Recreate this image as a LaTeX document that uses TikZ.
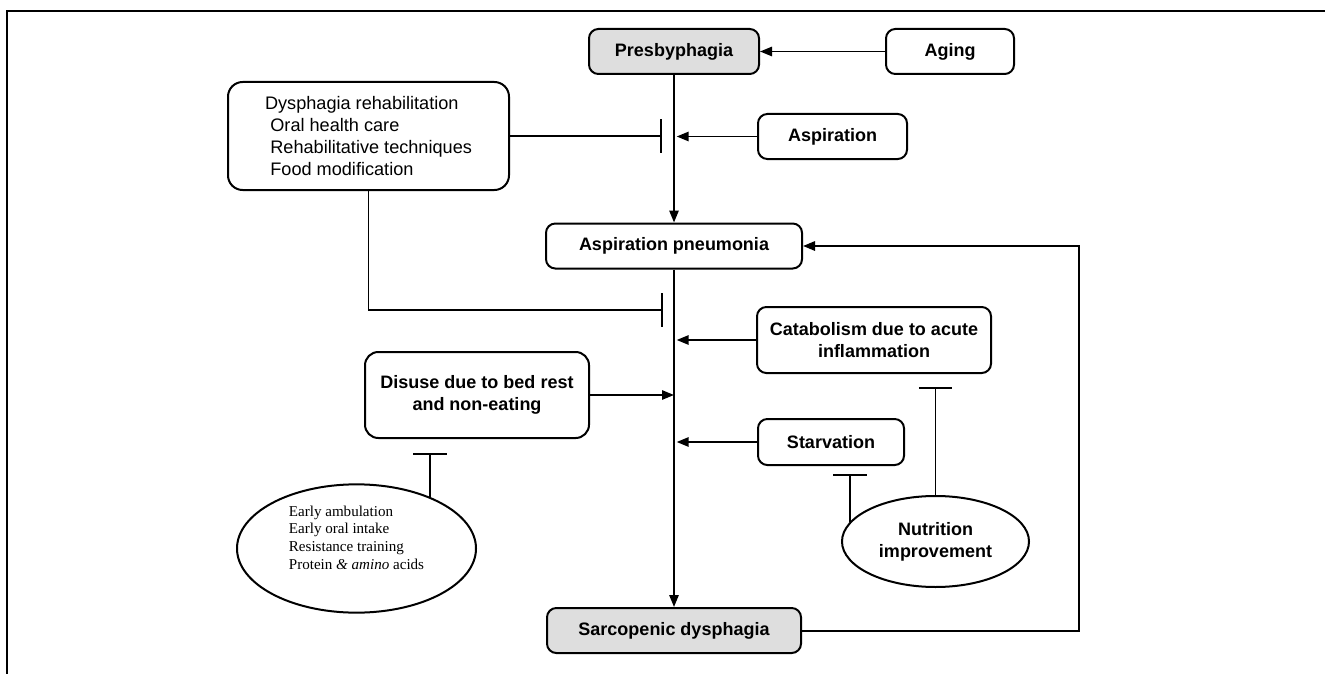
\documentclass[tikz,border=0pt]{standalone}
\usepackage{fontspec}
\setsansfont{Liberation Sans}
\newfontfamily\ellfont{Liberation Serif}
\usetikzlibrary{arrows.meta,shapes.geometric}

\tikzset{every picture/.style={line width=0.75pt}}
\tikzset{
  box/.style={draw, rounded corners=7pt, line width=1.5pt, inner sep=3pt, align=center,
    font=\sffamily\bfseries\fontsize{13.5}{16.5}\selectfont},
  greybox/.style={box, fill=black!13},
  oval/.style={draw, ellipse, line width=1.5pt, inner sep=2pt},
  flow/.style={line width=1.35pt, -{Triangle[length=9pt,width=7pt]}},
  inhibit/.style={line width=1.35pt, -{Bar[width=25pt]}},
}

\begin{document}
\begin{tikzpicture}[x=0.75pt,y=0.75pt,yscale=-1,xscale=1]
\useasboundingbox (0,0) rectangle (1325,674);

%Straight Lines [frame]
\draw [line width=0.9pt] (7,674) -- (7,11) -- (1325,11) ;

% Text Node
\node [greybox, minimum width=127.5pt, minimum height=33.75pt] (presby) at (674,51.5) {Presbyphagia};
% Text Node
\node [box, minimum width=96pt, minimum height=33.75pt] (aging) at (950,51.5) {Aging};
% Text Node
\node [box, minimum width=111.75pt, minimum height=33.75pt] (aspir) at (832.5,136.5) {Aspiration};
% Text Node
\node [box, rounded corners=11pt, minimum width=210.75pt, minimum height=81pt, align=left,
  font=\sffamily\fontsize{13.6}{16.7}\selectfont] (rehab) at (368.5,136)
  {Dysphagia rehabilitation\\\hspace*{4pt}Oral health care\\\hspace*{4pt}Rehabilitative techniques\\\hspace*{4pt}Food modification};
% Text Node
\node [box, minimum width=192pt, minimum height=33.75pt] (pneum) at (674,246) {Aspiration pneumonia};
% Text Node
\node [box, minimum width=175.5pt, minimum height=49.5pt] (catab) at (874,340) {Catabolism due to acute\\inflammation};
% Text Node
\node [box, rounded corners=10pt, minimum width=168pt, minimum height=64.5pt] (disuse) at (477,395) {Disuse due to bed rest\\and non-eating};
% Text Node
\node [box, minimum width=109.5pt, minimum height=34.5pt] (starv) at (831,442) {Starvation};
% Text Node
\node [greybox, minimum width=190.5pt, minimum height=33.75pt] (sarco) at (674,630.5) {Sarcopenic dysphagia};

%Shape: Ellipse
\node [oval, minimum width=179.25pt, minimum height=83.25pt, align=left,
  font=\ellfont\fontsize{11.3}{13.3}\selectfont] (ambul) at (356.5,548.5)
  {Early ambulation\\Early oral intake\\Resistance training\\Protein \textit{\& amino} acids\\[3pt]};
%Shape: Ellipse
\node [oval, minimum width=140.25pt, minimum height=68.25pt, align=center,
  font=\sffamily\bfseries\fontsize{13.5}{16.5}\selectfont] (nutr) at (935.5,541.5) {Nutrition\\improvement};

\coordinate (barB) at (663,310);
\coordinate (barD) at (422,453);
\coordinate (barS) at (851,474);
\coordinate (barC) at (936,387);
\coordinate (loopR) at (1079,247);

%Straight Lines
\draw [flow] (aging) -- (presby) ;
\draw [flow] (presby) -- (pneum) ;
\draw [flow] (pneum) -- (sarco) ;
\draw [flow, shorten >=2pt] (aspir) -- (aspir -| presby) ;
\draw [flow, shorten >=2pt] (catab) -- (catab -| pneum) ;
\draw [flow] (disuse) -- (disuse -| pneum) ;
\draw [flow, shorten >=2pt] (starv) -- (starv -| pneum) ;
\draw [flow, line width=1.5pt] (sarco) -| (loopR) |- (pneum) ;

%Straight Lines [blocking]
\draw [inhibit, shorten >=9pt] (rehab) -- (rehab -| presby) ;
\draw [inhibit] (rehab) |- (barB) ;
\draw [inhibit] (ambul.35) -- (ambul.35 |- barD) ;
\draw [inhibit] (nutr.167) -- (nutr.167 |- barS) ;
\draw [inhibit] (nutr) -- (nutr |- barC) ;

\end{tikzpicture}
\end{document}
